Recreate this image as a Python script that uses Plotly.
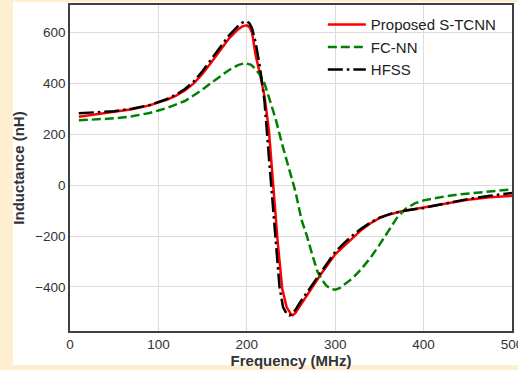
import plotly.graph_objects as go

# Frequency (MHz) samples
freq_red = [10, 30, 50, 70, 90, 110, 120, 130, 140, 150, 160, 170, 180, 190, 195, 200, 203, 206, 210, 215, 220, 225, 230, 235, 240, 245, 250, 252, 255, 260, 270, 283, 300, 310, 320, 330, 340, 350, 360, 375, 400, 425, 450, 475, 500]
ind_red = [268, 278, 287, 298, 313, 336, 351, 371, 399, 437, 482, 530, 576, 611, 623, 627, 620, 598, 510, 435, 350, 215, -5, -225, -405, -479, -507, -511, -502, -475, -425, -354, -272, -240, -205, -175, -150, -130, -117, -103, -88, -72, -58, -48, -42]

freq_green = [10, 30, 50, 70, 90, 100, 110, 130, 150, 160, 170, 180, 190, 198, 205, 210, 215, 220, 226, 233, 240, 245, 250, 255, 262, 268, 275, 280, 285, 290, 295, 300, 305, 310, 320, 330, 340, 350, 360, 370, 380, 390, 400, 425, 445, 475, 500]
ind_green = [254, 257, 262, 270, 283, 293, 303, 330, 375, 402, 428, 452, 471, 479, 472, 455, 432, 400, 334, 255, 160, 95, 33, -25, -138, -200, -285, -340, -372, -395, -408, -411, -405, -392, -365, -328, -285, -235, -180, -128, -92, -72, -60, -44, -35, -24, -17]

freq_black = [10, 30, 50, 70, 90, 110, 120, 130, 140, 150, 160, 170, 180, 190, 195, 200, 203, 206, 210, 215, 220, 225, 230, 232, 237, 241, 245, 248, 250, 255, 260, 270, 283, 300, 310, 320, 330, 340, 350, 365, 380, 400, 425, 450, 475, 500]
ind_black = [282, 285, 290, 300, 314, 338, 355, 377, 407, 448, 495, 543, 588, 624, 638, 643, 635, 615, 560, 460, 330, 110, -115, -203, -400, -479, -505, -512, -510, -490, -462, -412, -349, -262, -228, -197, -170, -147, -128, -110, -100, -90, -72, -55, -42, -31]

FONT = "Arial, Liberation Sans, sans-serif"

fig = go.Figure()
fig.add_trace(go.Scatter(x=freq_red, y=ind_red, mode="lines", name="Proposed S-TCNN",
                         line=dict(color="#ff0000", width=2.5)))
fig.add_trace(go.Scatter(x=freq_green, y=ind_green, mode="lines", name="FC-NN",
                         line=dict(color="#008000", width=2.5, dash="9px,4px")))
fig.add_trace(go.Scatter(x=freq_black, y=ind_black, mode="lines", name="HFSS",
                         line=dict(color="#000000", width=2.5, dash="15px,4px,2.5px,4px")))

fig.add_shape(type="rect", xref="paper", yref="paper",
              x0=-0.129, x1=1.02, y0=-0.1043, y1=1.0092,
              fillcolor="white", line=dict(width=0), layer="below")

axis_common = dict(
    showgrid=True, gridcolor="#dcdcdc", gridwidth=1,
    showline=True, linecolor="#404040", linewidth=1.5, mirror=True,
    zeroline=False, ticks="", automargin=False, ticklabeloverflow="allow",
    tickfont=dict(family=FONT, size=13.5, color="#333333"),
)

fig.update_layout(
    width=518, height=370,
    margin=dict(l=70, r=6, t=5, b=39),
    paper_bgcolor="#fdefd0", plot_bgcolor="white",
    font=dict(family=FONT, color="#333333"),
    xaxis=dict(range=[0, 500], tickvals=[0, 100, 200, 300, 400, 500],
               title=dict(text="<b>Frequency (MHz)</b>", font=dict(family=FONT, size=15, color="#333333"), standoff=3),
               **axis_common),
    yaxis=dict(range=[-573, 707], tickvals=[-400, -200, 0, 200, 400, 600],
               title=dict(text="<b>Inductance (nH)</b>", font=dict(family=FONT, size=15, color="#333333"), standoff=7),
               **axis_common),
    legend=dict(x=0.572, y=0.99, xanchor="left", yanchor="top", bgcolor="rgba(0,0,0,0)",
                itemwidth=38,
                font=dict(family=FONT, size=15, color="#222222"), tracegroupgap=0),
    showlegend=True,
)

fig.write_html("out.html", config={"displayModeBar": False},
               post_script="document.body.style.margin='0';document.body.style.background='#fdefd0';")
